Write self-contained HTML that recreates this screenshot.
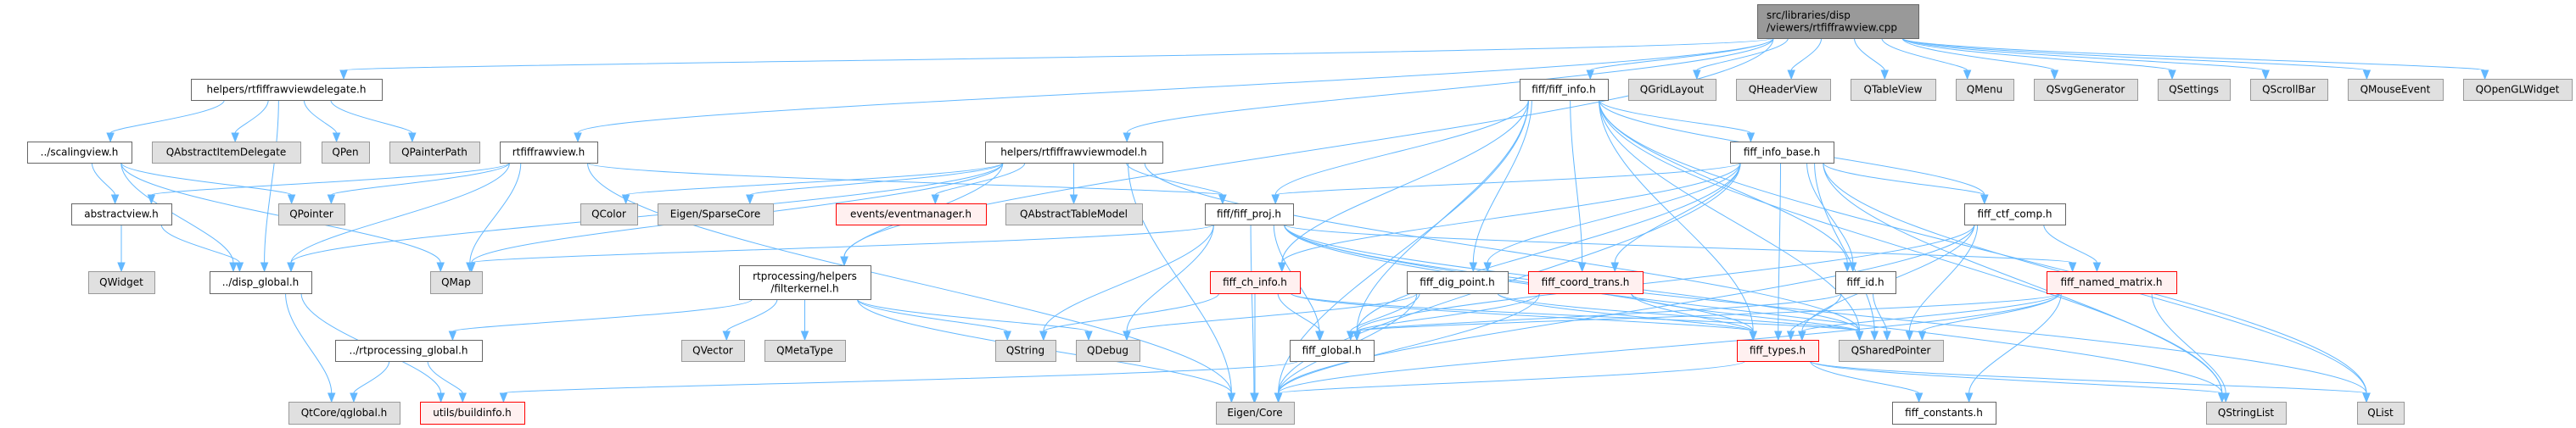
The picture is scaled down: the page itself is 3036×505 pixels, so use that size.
<!DOCTYPE html>
<html><head><meta charset="utf-8">
<style>
html,body{margin:0;padding:0;background:#fff;}
svg{display:block;}
text{font-family:"DejaVu Sans","Liberation Sans",sans-serif;font-size:12px;fill:#000;}
</style></head>
<body>
<svg id="g" width="3036" height="505" viewBox="0 0 3036 505" xmlns="http://www.w3.org/2000/svg">
<g id="edges"></g>
<g id="nodes"></g>
</svg>
<script>
var N={
root:[2071,5,2261,45,'g2',['src/libraries/disp','/viewers/rtfiffrawview.cpp'],'l'],
dlg:[225,93,450,118,'w',['helpers/rtfiffrawviewdelegate.h']],
info:[1791,93,1895,118,'w',['fiff/fiff_info.h']],
QGridLayout:[1919,93,2022,118,'g',['QGridLayout']],
QHeaderView:[2046,93,2157,118,'g',['QHeaderView']],
QTableView:[2181,93,2281,118,'g',['QTableView']],
QMenu:[2305,93,2373,118,'g',['QMenu']],
QSvgGenerator:[2397,93,2519,118,'g',['QSvgGenerator']],
QSettings:[2543,93,2628,118,'g',['QSettings']],
QScrollBar:[2652,93,2743,118,'g',['QScrollBar']],
QMouseEvent:[2767,93,2879,118,'g',['QMouseEvent']],
QOpenGLWidget:[2903,93,3031,118,'g',['QOpenGLWidget']],
scal:[32,167,155,192,'w',['../scalingview.h']],
QAID:[179,167,354,192,'g',['QAbstractItemDelegate']],
QPen:[379,167,435,192,'g',['QPen']],
QPainterPath:[459,167,565,192,'g',['QPainterPath']],
rview:[589,167,704,192,'w',['rtfiffrawview.h']],
model:[1161,167,1370,192,'w',['helpers/rtfiffrawviewmodel.h']],
base:[2039,167,2161,192,'w',['fiff_info_base.h']],
abs:[84,240,202,265,'w',['abstractview.h']],
QPointer:[328,240,406,265,'g',['QPointer']],
QColor:[684,240,751,265,'g',['QColor']],
Sparse:[775,240,911,265,'g',['Eigen/SparseCore']],
evt:[985,240,1162,265,'r',['events/eventmanager.h']],
QATM:[1185,240,1346,265,'g',['QAbstractTableModel']],
proj:[1420,240,1524,265,'w',['fiff/fiff_proj.h']],
ctf:[2315,240,2434,265,'w',['fiff_ctf_comp.h']],
QWidget:[104,320,182,346,'g',['QWidget']],
disp:[247,320,367,346,'w',['../disp_global.h']],
QMap:[507,320,568,346,'g',['QMap']],
fk:[871,313,1026,353,'w',['rtprocessing/helpers','/filterkernel.h']],
ch:[1426,320,1532,346,'r',['fiff_ch_info.h']],
dig:[1658,320,1777,346,'w',['fiff_dig_point.h']],
ct:[1801,320,1936,346,'r',['fiff_coord_trans.h']],
id:[2163,320,2234,346,'w',['fiff_id.h']],
nm:[2412,320,2565,346,'r',['fiff_named_matrix.h']],
rpg:[395,401,568,426,'w',['../rtprocessing_global.h']],
QVector:[803,401,877,426,'g',['QVector']],
QMetaType:[901,401,996,426,'g',['QMetaType']],
QString:[1173,401,1244,426,'g',['QString']],
QDebug:[1268,401,1343,426,'g',['QDebug']],
fg:[1520,401,1619,426,'w',['fiff_global.h']],
types:[2047,401,2143,426,'r',['fiff_types.h']],
QSP:[2167,401,2290,426,'g',['QSharedPointer']],
qglobal:[340,474,471,500,'g',['QtCore/qglobal.h']],
build:[495,474,618,500,'r',['utils/buildinfo.h']],
Core:[1433,474,1525,500,'g',['Eigen/Core']],
cons:[2230,474,2352,500,'w',['fiff_constants.h']],
QStringList:[2600,474,2694,500,'g',['QStringList']],
QList:[2778,474,2833,500,'g',['QList']]
};
var E={
root:['dlg','rview','fk','model','info','QGridLayout','QHeaderView','QTableView','QMenu','QSvgGenerator','QSettings','QScrollBar','QMouseEvent','QOpenGLWidget'],
dlg:['scal','QAID','QPen','QPainterPath','disp'],
scal:['abs','disp','QPointer','QMap'],
abs:['QWidget','disp'],
rview:['abs','QPointer','disp','QMap','Core','proj'],
model:['disp','QColor','Sparse','evt','QATM','proj','fk','Core','QSP','QMap'],
fk:['rpg','QVector','QMetaType','QString','QDebug','Core'],
rpg:['qglobal','build'],
disp:['qglobal','build'],
fg:['build'],
info:['base','proj','ch','dig','ct','ctf','id','types','fg','QSP','QStringList','QList','Core'],
base:['proj','ch','dig','ct','ctf','id','types','QSP','fg','QList','QStringList','Core'],
proj:['fg','types','nm','QString','QDebug','Core','QSP','QStringList','QMap','QList'],
ctf:['nm','types','fg','QSP','Core'],
nm:['types','fg','cons','QSP','QStringList','Core'],
ch:['fg','types','Core','QString','QSP'],
dig:['fg','types','QDebug','QSP','Core'],
ct:['fg','types','Core','QSP'],
id:['fg','types','QSP'],
types:['cons','Core','QStringList','QList']
};
var NS='http://www.w3.org/2000/svg';
function el(t,a,p){var e=document.createElementNS(NS,t);for(var k in a)e.setAttribute(k,a[k]);p.appendChild(e);return e;}
var ge=document.getElementById('edges'),gn=document.getElementById('nodes');
var C='#63b8ff';
for(var s in E){E[s].forEach(function(t){
 var a=N[s],b=N[t];
 var acx=(a[0]+a[2])/2,bcx=(b[0]+b[2])/2;
 var aw=(a[2]-a[0])/2,bw=(b[2]-b[0])/2;
 var sx=acx+Math.max(-aw*0.8,Math.min(aw*0.8,(bcx-acx)*0.3));
 var tx=bcx+Math.max(-bw*0.6,Math.min(bw*0.6,(acx-bcx)*0.15));
 var sy=a[3],ty=b[1];
 var dy=ty-sy;
 var c1x=sx,c1y=sy+dy*0.35,c2x=tx,c2y=ty-dy*0.35;
 // arrow direction
 var dx=tx-c2x,ddy=ty-c2y,L=Math.sqrt(dx*dx+ddy*ddy)||1;dx/=L;ddy/=L;
 var al=10,aw2=4;
 var bx=tx-dx*al,by=ty-ddy*al;
 el('path',{d:'M'+sx+','+sy+' C'+c1x+','+c1y+' '+c2x+','+c2y+' '+bx+','+by,fill:'none',stroke:C,'stroke-width':1},ge);
 el('polygon',{points:tx+','+ty+' '+(bx-ddy*aw2)+','+(by+dx*aw2)+' '+(bx+ddy*aw2)+','+(by-dx*aw2),fill:C,stroke:C},ge);
});}
for(var k in N){var n=N[k];
 var f='#fff',st='#666';
 if(n[4]=='g'){f='#e0e0e0';st='#999';}
 if(n[4]=='g2'){f='#999';st='#666';}
 if(n[4]=='r'){f='#fff0f0';st='#ff0000';}
 el('rect',{x:n[0]+0.5,y:n[1]+0.5,width:n[2]-n[0],height:n[3]-n[1],fill:f,stroke:st,'stroke-width':1},gn);
 var lines=n[5],h=n[3]-n[1];
 lines.forEach(function(tx,i){
  var y=n[1]+h/2+4+(i-(lines.length-1)/2)*14.5;
  var t;
  if(n[6]=='l'){t=el('text',{x:n[0]+11,y:y},gn);}
  else t=el('text',{x:(n[0]+n[2])/2,y:y,'text-anchor':'middle'},gn);
  t.textContent=tx;
 });
}
</script>
</body></html>
